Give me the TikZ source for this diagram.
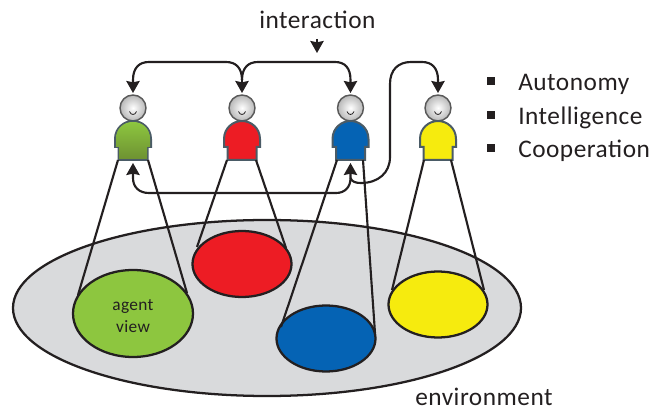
\documentclass[tikz,border=0pt]{standalone}
\usepackage{fontspec}
\setmainfont{Carlito}
\newfontfamily\spaced[LetterSpace=2]{Carlito}
\usetikzlibrary{arrows.meta}
\definecolor{envgray}{HTML}{D9DADC}
\definecolor{agreen}{HTML}{8DC63F}
\definecolor{agreenD}{HTML}{6E9232}
\definecolor{ared}{HTML}{ED1C24}
\definecolor{ablue}{HTML}{0563B4}
\definecolor{ayellow}{HTML}{F6EB0E}
\definecolor{outl}{HTML}{4A5B66}
\definecolor{ink}{HTML}{231F20}
\tikzset{
  x=0.75pt,y=-0.75pt,
  view/.style={draw=ink,line width=1.7pt},
  cone/.style={draw=ink,line width=1.6pt},
  flow/.style={draw=ink,line width=1.6pt,-{Stealth[length=9pt,width=10pt,inset=1pt]}},
  lbl/.style={text=ink,inner sep=0pt},
  pics/agent/.style={code={
    \shade[inner color=white,outer color=black!28,draw=black!65,line width=1.1pt] (0,-52) circle[radius=13];
    \draw[ink,line width=0.6pt] (-3.5,-48.5) .. controls (-2,-44.5) and (2,-44.5) .. (3.5,-48.5);
    \fill[#1,draw=outl,line width=1.5pt]
      (-14.5,0) -- (-14.5,-13) -- (-18,-13) -- (-18,-21)
      .. controls (-18,-32) and (-9,-39) .. (0,-39)
      .. controls (9,-39) and (18,-32) .. (18,-21)
      -- (18,-13) -- (14.5,-13) -- (14.5,0) -- cycle;
  }}
}
\begin{document}
\begin{tikzpicture}
\useasboundingbox (0,0) rectangle (651,410);
% environment and views
\draw[fill=envgray,draw=ink,line width=1.7pt] (267,308) ellipse[x radius=254,y radius=88];
\draw[view,fill=agreen] (133,313.5) ellipse[x radius=60,y radius=43.5];
\draw[view,fill=ared] (242,264) ellipse[x radius=49.5,y radius=33];
\draw[view,fill=ablue] (326,338.5) ellipse[x radius=49.5,y radius=33];
\draw[view,fill=ayellow] (438,304.5) ellipse[x radius=49.5,y radius=33];
\node[font=\spaced\fontsize{13}{16.5}\selectfont,text=ink,align=center,inner sep=0pt] (viewlbl) at (133,316) {agent\\view};
% persons
\pic at (133,160) {agent=agreen};
\shade[bottom color=agreenD,top color=agreen] (119,159) -- (119,147) -- (116,147) -- (116,139) .. controls (116,128) and (124,122) .. (133,122) .. controls (142,122) and (150,128) .. (150,139) -- (150,147) -- (147,147) -- (147,159) -- cycle;
\pic at (242,160) {agent=ared};
\pic at (350.5,160) {agent=ablue};
\pic at (438,160) {agent=ayellow};
\coordinate (g) at (133,93);
\coordinate (r) at (242,93);
\coordinate (b) at (350.5,93);
\coordinate (y) at (438,93);
\coordinate (gb) at (133,163);
\coordinate (bb) at (350.5,163);
% cone lines
\coordinate (gl) at (118,160); \coordinate (gr) at (148,160);
\coordinate (gL) at (78,295); \coordinate (gR) at (187,293);
\coordinate (rl) at (227,160); \coordinate (rr) at (256,160);
\coordinate (rL) at (197,247); \coordinate (rR) at (286,248);
\coordinate (bl) at (337,160); \coordinate (br) at (363,160);
\coordinate (bL) at (281,327); \coordinate (bR) at (375,333);
\coordinate (yl) at (424,160); \coordinate (yr) at (451,160);
\coordinate (yL) at (392,290); \coordinate (yR) at (484,290);
\foreach \a/\b in {gl/gL,gr/gR,rl/rL,rr/rR,bl/bL,br/bR,yl/yL,yr/yR}
  \draw[cone] (\a) -- (\b);
% interaction arrows
\draw[flow] (242,80) .. controls (242,68) and (236,62) .. (226,62) -- (149,62) .. controls (139,62) and (133,68) .. (133,80) -- (g);
\draw[flow] (242,80) -- (r);
\draw[flow] (242,80) .. controls (242,68) and (248,62) .. (258,62) -- (335,62) .. controls (345,62) and (350.5,68) .. (350.5,80) -- (b);
\draw[flow] (336,193) -- (149,193) .. controls (139,193) and (133,187) .. (133,178) -- (gb);
\draw[flow] (336,193) .. controls (345,193) and (350.5,187) .. (350.5,178) -- (bb);
\draw[flow] (350.5,178) .. controls (352,182) and (356,183) .. (361,183) .. controls (378,183) and (390,173) .. (390,157) -- (390,84) .. controls (390,70) and (398,62) .. (411,62) -- (422,62) .. controls (432,62) and (438,68) .. (438,80) -- (y);
% labels
\node[lbl,anchor=base west,font=\spaced\fontsize{19}{22}\selectfont] (inter) at (259,29) {interaction};
\coordinate (ia) at (317,39);
\coordinate (ib) at (317,53);
\draw[flow] (ia) -- (ib);
\foreach \yy/\bl/\t in {81/91/Autonomy,115/125/Intelligence,148/158/Cooperation}{
  \fill[ink] (487,\yy-4) rectangle (495,\yy+4);
  \node[lbl,anchor=base west,font=\spaced\fontsize{19}{22}\selectfont] at (518,\bl) {\t};
}
\node[lbl,anchor=base west,font=\spaced\fontsize{19}{22}\selectfont] (envl) at (415,405) {environment};
\end{tikzpicture}
\end{document}
